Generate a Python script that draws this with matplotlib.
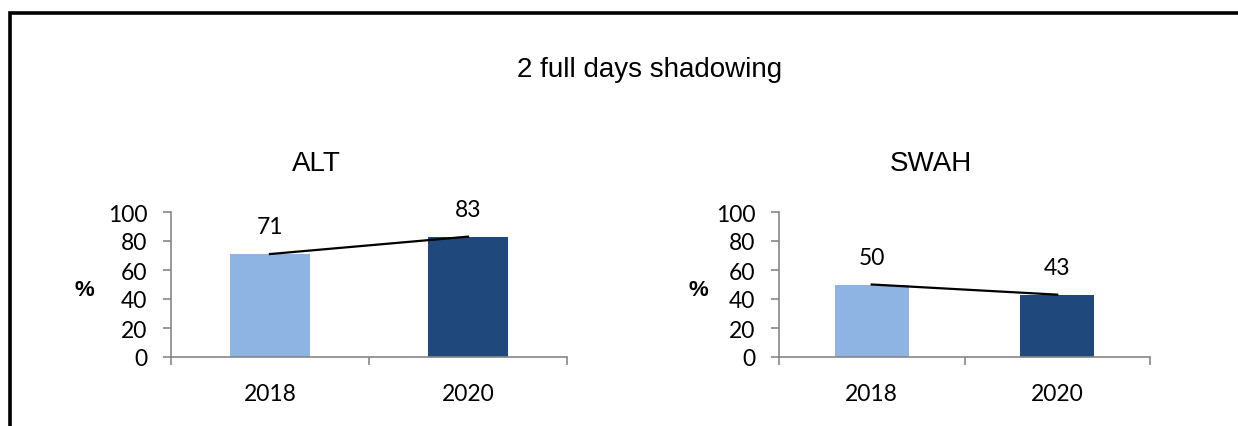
import matplotlib.pyplot as plt
from matplotlib.patches import Rectangle

years = ["2018", "2020"]
alt_pct = [71, 83]
swah_pct = [50, 43]
panels = [("ALT", alt_pct), ("SWAH", swah_pct)]

bar_colors = ["#8eb4e3", "#1f497d"]
axis_grey = "#868686"
num_font = "Lato"
head_font = "Liberation Sans"

W, H = 1238, 427
fig = plt.figure(figsize=(W / 100, H / 100), dpi=100)

# outer frame, open at right and bottom
fig.patches.append(Rectangle((10 / W, -0.2), 1.5, 1.2 - 13.5 / H,
                             transform=fig.transFigure, fill=False,
                             edgecolor="black", linewidth=2.6))

fig.text(650 / W, 1 - 70 / H, "2 full days shadowing", ha="center", va="center",
         fontsize=20, family=head_font)

# (axes left px, axes right px, title centre px)
boxes = [(171, 567, 316), (779, 1150, 931)]
for (name, vals), (x0, x1, tx) in zip(panels, boxes):
    ax = fig.add_axes([x0 / W, 1 - 358 / H, (x1 - x0) / W, 145 / H])
    pos = list(range(len(years)))
    ax.bar(pos, vals, width=0.4, color=bar_colors, zorder=2)
    ax.plot(pos, vals, color="black", linewidth=1.6, zorder=3)
    for p, v in zip(pos, vals):
        ax.annotate(str(v), (p, v), xytext=(0, 19.5), textcoords="offset points",
                    ha="center", va="center", fontsize=16.5, family=num_font)
    ax.set_xlim(-0.5, 1.5)
    ax.set_ylim(0, 100)
    ax.set_yticks(range(0, 101, 20))
    ax.set_xticks(pos)
    ax.set_xticklabels(years)
    ax.set_xticks([-0.5, 0.5, 1.5], minor=True)
    ax.tick_params(axis="x", which="major", length=0, pad=19, labelsize=16.5)
    ax.tick_params(axis="x", which="minor", length=6, color=axis_grey, width=1.2)
    ax.tick_params(axis="y", length=6, color=axis_grey, width=1.2, labelsize=16.5, pad=11)
    for lab in ax.get_xticklabels() + ax.get_yticklabels():
        lab.set_family(num_font)
    for s in ("top", "right"):
        ax.spines[s].set_visible(False)
    for s in ("left", "bottom"):
        ax.spines[s].set_color(axis_grey)
        ax.spines[s].set_linewidth(1.2)
    ax.set_ylabel("%", rotation=0, fontsize=16, fontweight="bold",
                  family=head_font, va="center", ha="center")
    ax.yaxis.set_label_coords((84 - x0) / (x1 - x0) if name == "ALT" else (698 - x0) / (x1 - x0),
                              (358 - 290) / 145)
    fig.text(tx / W, 1 - 164 / H, name, ha="center", va="center",
             fontsize=20, family=head_font)

fig.savefig("out.png", dpi=100)
